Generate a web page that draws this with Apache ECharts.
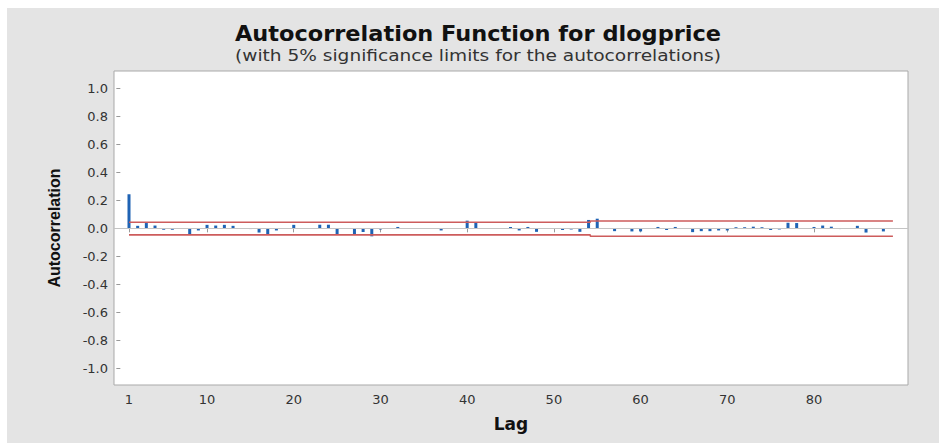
<!DOCTYPE html>
<html>
<head>
<meta charset="utf-8">
<script src="https://cdn.jsdelivr.net/npm/echarts@6/dist/echarts.min.js"></script>
<style>
  html, body { margin: 0; padding: 0; background: #ffffff; }
  #wrap { position: relative; width: 939px; height: 443px; background: #ffffff; }
  #bg { position: absolute; left: 7px; top: 8px; right: 0; bottom: 0; background: #e4e4e4; }
  #chart { position: absolute; left: 0; top: 0; width: 939px; height: 443px; }
</style>
</head>
<body>
<div id="wrap"><div id="bg"></div><div id="chart"></div></div>
<script>
// Lags 1..88 and their autocorrelations
const lags = [];
for (let i = 1; i <= 88; i++) lags.push(i);
const acf = [
  0.244, 0.018, 0.038, 0.020, -0.010, -0.010, 0.001, -0.045, -0.015, 0.025,
  0.020, 0.025, 0.018, 0.001, -0.005, -0.030, -0.045, -0.015, 0.001, 0.025,
  0.001, -0.001, 0.026, 0.026, -0.047, 0.001, -0.045, -0.026, -0.057, -0.008,
  0.001, 0.010, 0.001, -0.001, 0.001, -0.001, -0.015, 0.001, -0.001, 0.055,
  0.045, 0.001, -0.001, -0.004, 0.010, -0.015, 0.010, -0.025, 0.001, -0.001,
  -0.012, -0.008, -0.025, 0.060, 0.069, 0.001, -0.020, 0.001, -0.022, -0.022,
  -0.004, 0.010, -0.012, 0.010, 0.001, -0.027, -0.020, -0.020, -0.015, -0.015,
  0.008, 0.008, 0.012, 0.008, -0.012, -0.008, 0.040, 0.038, 0.001, 0.010,
  0.020, 0.012, -0.005, 0.001, 0.018, -0.030, -0.001, -0.022
];
// 5% significance limits (step change near lag 54)
const limitLags  = [1, 54.2, 54.2, 89.1];
const upperLimit = [0.044, 0.044, 0.053, 0.053];
const lowerLimit = [-0.047, -0.047, -0.056, -0.056];
// tick labels
const xTicks = [1, 10, 20, 30, 40, 50, 60, 70, 80];
const yTicks = [-1.0, -0.8, -0.6, -0.4, -0.2, 0.0, 0.2, 0.4, 0.6, 0.8, 1.0];

const titleText = 'Autocorrelation Function for dlogprice';
const subText = '(with 5% significance limits for the autocorrelations)';

const chart = echarts.init(document.getElementById('chart'), null, { renderer: 'svg' });

const labelFont = 'DejaVu Sans';
chart.setOption({
  backgroundColor: 'transparent',
  animation: false,
  graphic: [
    { type: 'text', x: 478, y: 34, scaleX: 1.07,
      style: { text: titleText, fill: '#111', font: 'bold 21px "DejaVu Sans"', textAlign: 'center', textVerticalAlign: 'middle' } },
    { type: 'text', x: 478, y: 55, scaleX: 1.16,
      style: { text: subText, fill: '#333', font: '16px "DejaVu Sans"', textAlign: 'center', textVerticalAlign: 'middle' } }
  ],
  grid: {
    left: 114, top: 71, width: 794, height: 314,
    show: true, backgroundColor: '#ffffff', borderColor: '#a9a9a9', borderWidth: 1
  },
  xAxis: {
    type: 'value', min: -0.73, max: 90.84,
    name: 'Lag', nameLocation: 'middle', nameGap: 30,
    nameTextStyle: { fontFamily: labelFont, fontWeight: 'bold', fontSize: 17, color: '#111' },
    axisLine: { show: false },
    axisTick: { show: true, length: 4, lineStyle: { color: '#999' }, customValues: xTicks },
    axisLabel: { color: '#333', fontFamily: labelFont, fontSize: 13, margin: 8, customValues: xTicks },
    splitLine: { show: false }
  },
  yAxis: {
    type: 'value', min: -1.12, max: 1.125,
    name: 'Autocorrelation', nameLocation: 'middle', nameGap: 52, nameRotate: 90,
    nameTextStyle: { fontFamily: 'Liberation Sans', fontWeight: 'bold', fontSize: 16, color: '#111' },
    axisLine: { show: false },
    axisTick: { show: true, length: 4, lineStyle: { color: '#999' }, customValues: yTicks },
    axisLabel: { color: '#333', fontFamily: labelFont, fontSize: 13, margin: 6,
      customValues: yTicks, formatter: v => v.toFixed(1) },
    splitLine: { show: false }
  },
  series: [
    {
      type: 'bar', barWidth: 3,
      itemStyle: { color: '#1f63b4' },
      data: lags.map((l, i) => [l, acf[i]]),
      z: 3,
      markLine: {
        silent: true, symbol: 'none', label: { show: false },
        lineStyle: { color: '#c4c4c4', width: 1, type: 'solid' },
        data: [{ yAxis: 0 }]
      }
    },
    {
      type: 'line', symbol: 'none', z: 4,
      lineStyle: { color: '#cd5c5c', width: 1.6 },
      data: limitLags.map((l, i) => [l, upperLimit[i]])
    },
    {
      type: 'line', symbol: 'none', z: 4,
      lineStyle: { color: '#cd5c5c', width: 1.6 },
      data: limitLags.map((l, i) => [l, lowerLimit[i]])
    }
  ]
});
</script>
</body>
</html>
